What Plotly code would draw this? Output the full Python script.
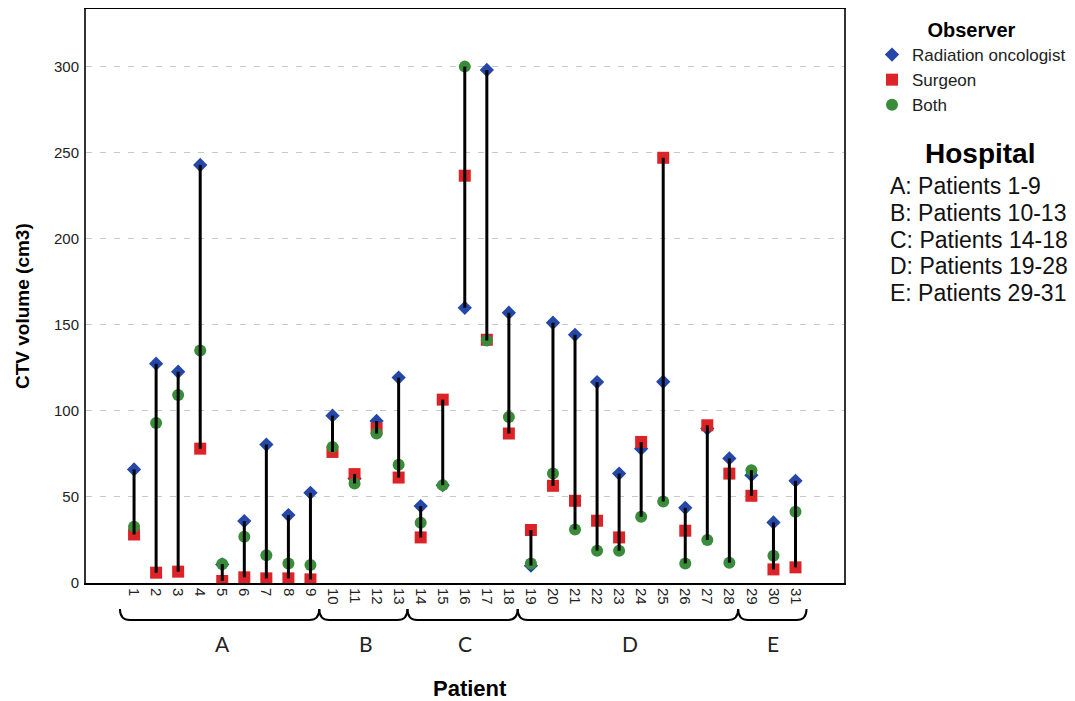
import plotly.graph_objects as go

# ---------------- data ----------------
patients = list(range(1, 32))
radiation_oncologist = [66.0, 127.5, 122.8, 243.0, 10.8, 36.0, 80.5, 39.5, 52.4,
                        97.3, 60.7, 94.2, 119.4,
                        44.7, 56.9, 160.0, 298.3, 157.1,
                        10.1, 151.3, 144.3, 116.8, 63.6, 78.1, 117.0, 43.7, 89.8, 72.4,
                        62.7, 35.2, 59.4]
surgeon = [28.2, 6.0, 6.6, 78.1, 1.2, 3.3, 2.7, 2.7, 2.1,
           76.2, 63.3, 89.8, 61.3,
           26.5, 106.6, 236.8, 141.4, 86.9,
           30.8, 56.5, 47.8, 36.2, 26.5, 82.0, 247.2, 30.4, 91.7, 63.6,
           50.7, 7.9, 9.1]
both = [32.7, 93.0, 109.3, 135.2, 11.0, 26.9, 16.1, 11.4, 10.4,
        79.1, 57.9, 86.9, 68.7,
        35.0, 56.9, 300.2, 141.0, 96.5,
        11.4, 63.6, 31.1, 18.8, 18.8, 38.5, 47.4, 11.4, 25.0, 11.8,
        65.6, 15.9, 41.4]

hospitals = ["A", "B", "C", "D", "E"]
hospital_first = [1, 10, 14, 19, 29]
hospital_last = [9, 13, 18, 28, 31]
hospital_lines = [f"{h}: Patients {a}-{b}" for h, a, b in zip(hospitals, hospital_first, hospital_last)]

y_ticks = [0, 50, 100, 150, 200, 250, 300]

# ---------------- styling ----------------
BLUE = "#2447a8"
RED = "#dc2328"
GREEN = "#3a8c3a"
FONT = "Liberation Sans, Arial, sans-serif"

# page geometry (the page body adds an 8px offset)
OFF = 8
W, H = 1075, 701
PLOT_L, PLOT_T, PLOT_R, PLOT_B = 86, 8, 844, 583   # desired on-page plot box
L = PLOT_L - OFF
T = PLOT_T - OFF + 1
plot_w = PLOT_R - PLOT_L
plot_h = PLOT_B - PLOT_T - 1
R = W - L - plot_w
B = H - T - plot_h


def px_to_paper_x(px):
    return (px - PLOT_L) / plot_w


def px_to_paper_y(py):
    return (PLOT_B - py) / plot_h


fig = go.Figure()

fig.add_trace(go.Scatter(x=patients, y=radiation_oncologist, mode="markers",
                         name="Radiation oncologist",
                         marker=dict(symbol="diamond", size=11, color=BLUE)))
fig.add_trace(go.Scatter(x=patients, y=surgeon, mode="markers", name="Surgeon",
                         marker=dict(symbol="square", size=12, color=RED)))
fig.add_trace(go.Scatter(x=patients, y=both, mode="markers", name="Both",
                         marker=dict(symbol="circle", size=12, color=GREEN)))

# high-low lines (min to max per patient), drawn over the markers
lx, ly = [], []
for p, a, b, c in zip(patients, radiation_oncologist, surgeon, both):
    lx += [p, p, None]
    ly += [min(a, b, c), max(a, b, c), None]
fig.add_trace(go.Scatter(x=lx, y=ly, mode="lines",
                         line=dict(color="black", width=3),
                         showlegend=False, hoverinfo="skip"))

# braces under the x axis, one per hospital
y_top = px_to_paper_y(609)
y_bot = px_to_paper_y(620)
r = 0.45
shapes = []
for i, (a, b) in enumerate(zip(hospital_first, hospital_last)):
    x0 = a - 0.64 if i == 0 else hospital_last[i - 1] + 0.4
    x1 = b + 0.5 if i == len(hospitals) - 1 else b + 0.4
    path = (f"M {x0},{y_top} Q {x0},{y_bot} {x0 + r},{y_bot} "
            f"L {x1 - r},{y_bot} Q {x1},{y_bot} {x1},{y_top}")
    shapes.append(dict(type="path", path=path, xref="x", yref="paper",
                       line=dict(color="black", width=2)))

annotations = []
for h, a, b in zip(hospitals, hospital_first, hospital_last):
    annotations.append(dict(x=(a + b) / 2, y=px_to_paper_y(643), xref="x", yref="paper",
                            text=h, showarrow=False, xanchor="center", yanchor="middle",
                            font=dict(family="Lato, sans-serif", size=21, color="#222")))

annotations.append(dict(x=px_to_paper_x(980), y=px_to_paper_y(153), xref="paper", yref="paper",
                        text="<b>Hospital</b>", showarrow=False,
                        xanchor="center", yanchor="middle",
                        font=dict(family=FONT, size=28, color="black")))
for i, line in enumerate(hospital_lines):
    annotations.append(dict(x=px_to_paper_x(888), y=px_to_paper_y(186 + 26.8 * i),
                            xref="paper", yref="paper", text=line, showarrow=False,
                            xanchor="left", yanchor="middle",
                            font=dict(family=FONT, size=23, color="#111")))

annotations.append(dict(x=px_to_paper_x(470), y=px_to_paper_y(688), xref="paper", yref="paper",
                        text="<b>Patient</b>", showarrow=False,
                        xanchor="center", yanchor="middle",
                        font=dict(family=FONT, size=22, color="black")))
annotations.append(dict(x=px_to_paper_x(22), y=px_to_paper_y(306), xref="paper", yref="paper",
                        text="<b>CTV volume (cm3)</b>", showarrow=False, textangle=-90,
                        xanchor="center", yanchor="middle",
                        font=dict(family=FONT, size=19, color="black")))

fig.update_layout(
    width=W, height=H,
    margin=dict(l=L, r=R, t=T, b=B, autoexpand=False),
    plot_bgcolor="white", paper_bgcolor="white",
    font=dict(family=FONT, size=15, color="#222"),
    shapes=shapes,
    annotations=annotations,
    legend=dict(
        title=dict(text="<b>Observer</b>", side="top center",
                   font=dict(family=FONT, size=20, color="black")),
        x=px_to_paper_x(872), y=px_to_paper_y(11), xanchor="left", yanchor="top",
        font=dict(family=FONT, size=17, color="#222"),
        bgcolor="rgba(0,0,0,0)", itemclick=False,
    ),
    xaxis=dict(
        range=[-1.18, 33.2], tickmode="array", tickvals=patients,
        ticktext=[str(p) for p in patients], tickangle=90,
        showgrid=False, zeroline=False, ticks="",
        showline=True, linecolor="black", linewidth=2, mirror=True,
        tickfont=dict(size=15, color="#222"),
    ),
    yaxis=dict(
        range=[0, 333.7], tickmode="array", tickvals=y_ticks,
        showgrid=True, gridcolor="#c8c8c8", gridwidth=1, griddash="6px,8px",
        zeroline=False, ticks="", ticklabelstandoff=2,
        showline=True, linecolor="#333", linewidth=2, mirror=True,
        tickfont=dict(size=15, color="#222"),
    ),
)

fig.write_html("out.html")
